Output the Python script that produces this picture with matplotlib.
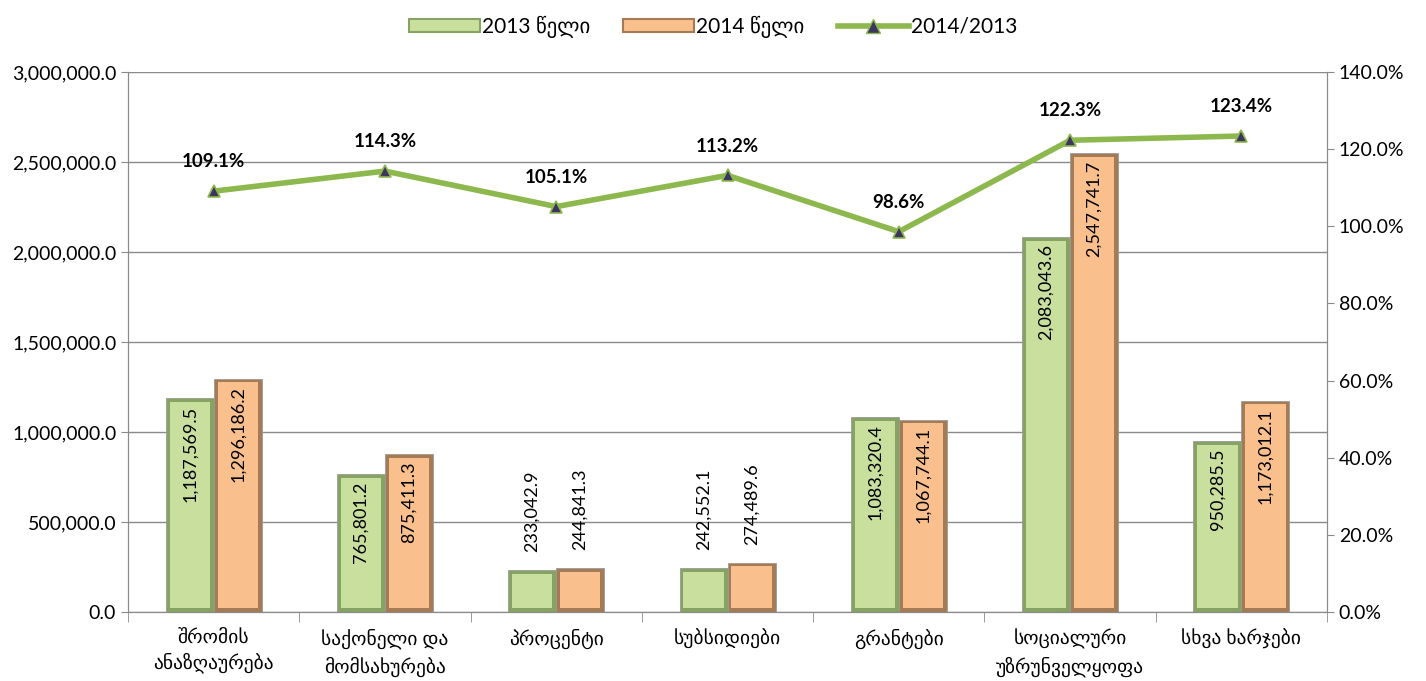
import numpy as np
import matplotlib.pyplot as plt
from matplotlib.ticker import FuncFormatter, MultipleLocator, FixedLocator
from matplotlib.patches import Patch
from matplotlib.lines import Line2D

plt.rcParams['font.family'] = ['Lato', 'DejaVu Sans']

categories = ['შრომის\nანაზღაურება', 'საქონელი და\nმომსახურება', 'პროცენტი',
              'სუბსიდიები', 'გრანტები', 'სოციალური\nუზრუნველყოფა', 'სხვა ხარჯები']
y2013 = [1187569.5, 765801.2, 233042.9, 242552.1, 1083320.4, 2083043.6, 950285.5]
y2014 = [1296186.2, 875411.3, 244841.3, 274489.6, 1067744.1, 2547741.7, 1173012.1]
ratio = [109.1, 114.3, 105.1, 113.2, 98.6, 122.3, 123.4]

green_face, green_edge = '#c8df9e', '#86a363'
orange_face, orange_edge = '#f9bf8c', '#a57b55'
line_col = '#8cb84e'
marker_col = '#3b3560'

fig = plt.figure(figsize=(14.26, 6.81), dpi=100)
ax = fig.add_axes([0.0898, 0.1013, 0.8408, 0.793])
ax2 = ax.twinx()

x = np.arange(len(categories))
w = 0.28
ax.set_xlim(-0.5, len(categories) - 0.5)
ax.set_ylim(0, 3000000)
ax2.set_ylim(0, 140)

def bevel_bars(xs, vals, face, edge):
    ax.bar(xs, vals, w, color=edge, edgecolor='#9a9a9a', linewidth=0.6, zorder=3)
    # lighter inner face to mimic the bevel
    inset = 20000
    ax.bar(xs, [v - 2 * inset for v in vals], w * 0.84, bottom=inset,
           color=face, linewidth=0, zorder=3)

bevel_bars(x - w / 2, y2013, green_face, green_edge)
bevel_bars(x + w / 2, y2014, orange_face, orange_edge)

# value labels
for xs, vals in ((x - w / 2, y2013), (x + w / 2, y2014)):
    for xi, v in zip(xs, vals):
        s = '{:,.1f}'.format(v)
        if v > 500000:
            ax.text(xi, v - 40000, s, rotation=90, ha='center', va='top',
                    fontsize=13, zorder=5)
        else:
            ax.text(xi, v + 100000, s, rotation=90, ha='center', va='bottom',
                    fontsize=13, zorder=5)

ax2.plot(x, ratio, color=line_col, lw=4, marker='^', ms=9,
         markerfacecolor=marker_col, markeredgecolor=line_col, markeredgewidth=1.2,
         zorder=4)
for xi, r in zip(x, ratio):
    ax2.annotate('{:.1f}%'.format(r), (xi, r), xytext=(0, 15),
                 textcoords='offset points', ha='center', va='bottom',
                 fontsize=13.5, fontweight='bold')

# axes styling
ax.yaxis.set_major_locator(MultipleLocator(500000))
ax.yaxis.set_major_formatter(FuncFormatter(lambda v, p: '{:,.1f}'.format(v)))
ax2.yaxis.set_major_locator(MultipleLocator(20))
ax2.yaxis.set_major_formatter(FuncFormatter(lambda v, p: '{:.1f}%'.format(v)))
ax.grid(axis='y', color='#8a8a8a', lw=1, zorder=0)
ax.set_axisbelow(True)

ax.set_xticks(x)
ax.set_xticklabels(categories, fontsize=14, linespacing=1.45)
ax.tick_params(axis='x', length=0, pad=12)
ax.xaxis.set_minor_locator(FixedLocator(np.arange(-0.5, len(categories), 1)))
ax.tick_params(axis='x', which='minor', length=7, color='#8a8a8a')
ax.tick_params(axis='y', labelsize=14, length=5, color='#8a8a8a')
ax2.tick_params(axis='y', labelsize=14, length=5, color='#8a8a8a')

for a in (ax, ax2):
    a.spines['top'].set_visible(False)
    for s in ('left', 'right', 'bottom'):
        a.spines[s].set_color('#8a8a8a')

handles = [Patch(facecolor=green_face, edgecolor=green_edge, lw=1.5),
           Patch(facecolor=orange_face, edgecolor=orange_edge, lw=1.5),
           Line2D([], [], color=line_col, lw=4, marker='^', ms=10,
                  markerfacecolor=marker_col, markeredgecolor=line_col)]
fig.legend(handles, ['2013 წელი', '2014 წელი', '2014/2013'], loc='upper center',
           bbox_to_anchor=(0.5, 1.005), ncol=3, frameon=False, fontsize=15,
           handlelength=3.4, handleheight=0.6, handletextpad=0.1, columnspacing=1.6)

fig.savefig('out.png', dpi=100)
